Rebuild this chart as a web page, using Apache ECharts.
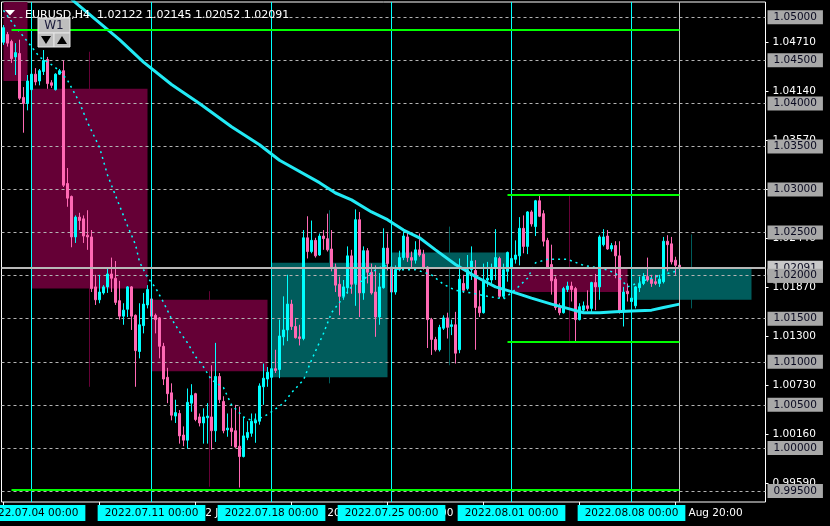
<!DOCTYPE html>
<html>
<head>
<meta charset="utf-8">
<script src="https://cdn.jsdelivr.net/npm/echarts@6/dist/echarts.min.js"></script>
<style>
html,body{margin:0;padding:0;background:#000;}
#c{width:830px;height:526px;}
</style>
</head>
<body>
<div id="c"></div>
<script>
// ---------------- data ----------------
const symbolText = 'EURUSD,H4  1.02122 1.02145 1.02052 1.02091';
const barCount = 191;            // bars visible on the time axis (incl. right shift)
const lastBar = 169;             // index of the current bar
const bidPrice = 1.02091;
const priceMin = 0.993723;
const priceMax = 1.051776;

// H4 candles: [open, close, low, high]
const candles = [
[1.0471,1.0488,1.0468,1.0491],[1.0480,1.0470,1.0466,1.0483],[1.0472,1.0452,1.0447,1.0474],[1.0454,1.0459,1.0433,1.0470],
[1.0458,1.0406,1.0404,1.0474],[1.0407,1.0400,1.0366,1.0419],[1.0400,1.0426,1.0392,1.0433],[1.0416,1.0434,1.0415,1.0445],
[1.0434,1.0425,1.0421,1.0441],[1.0426,1.0438,1.0421,1.0440],[1.0437,1.0450,1.0433,1.0462],[1.0451,1.0423,1.0417,1.0454],
[1.0424,1.0421,1.0418,1.0427],[1.0416,1.0434,1.0415,1.0435],[1.0434,1.0438,1.0433,1.0440],[1.0438,1.0305,1.0303,1.0450],
[1.0307,1.0290,1.0280,1.0325],[1.0292,1.0245,1.0233,1.0293],[1.0245,1.0268,1.0238,1.0270],[1.0268,1.0264,1.0253,1.0273],
[1.0266,1.0246,1.0238,1.0270],[1.0247,1.0245,1.0230,1.0276],[1.0245,1.0185,1.0181,1.0253],[1.0187,1.0172,1.0166,1.0201],
[1.0172,1.0181,1.0168,1.0201],[1.0180,1.0187,1.0178,1.0189],[1.0187,1.0202,1.0180,1.0210],[1.0202,1.0197,1.0181,1.0221],
[1.0197,1.0169,1.0166,1.0217],[1.0171,1.0153,1.0149,1.0194],[1.0153,1.0160,1.0143,1.0168],[1.0161,1.0187,1.0152,1.0188],
[1.0187,1.0153,1.0137,1.0188],[1.0154,1.0113,1.0071,1.0155],[1.0112,1.0143,1.0104,1.0168],[1.0142,1.0167,1.0133,1.0180],
[1.0166,1.0184,1.0162,1.0189],[1.0173,1.0153,1.0149,1.0181],[1.0154,1.0149,1.0133,1.0156],[1.0151,1.0118,1.0104,1.0152],
[1.0118,1.0080,1.0073,1.0122],[1.0082,1.0063,1.0052,1.0093],[1.0064,1.0038,1.0032,1.0075],[1.0037,1.0041,1.0029,1.0056],
[1.0040,1.0014,1.0005,1.0044],[1.0015,1.0009,1.0002,1.0025],[1.0009,1.0053,0.9999,1.0069],[1.0052,1.0061,1.0042,1.0074],
[1.0063,1.0033,1.0031,1.0064],[1.0036,1.0029,1.0025,1.0040],[1.0029,1.0036,1.0005,1.0046],[1.0035,1.0037,1.0005,1.0052],
[1.0036,1.0020,0.9998,1.0096],[1.0020,1.0083,1.0007,1.0122],[1.0083,1.0056,1.0052,1.0087],[1.0054,1.0020,1.0017,1.0060],
[1.0021,1.0023,1.0013,1.0040],[1.0023,1.0019,1.0002,1.0046],[1.0020,1.0001,1.0000,1.0050],[1.0002,0.9990,0.9954,1.0048],
[0.9990,1.0014,0.9989,1.0036],[1.0012,1.0018,1.0009,1.0031],[1.0017,1.0031,1.0013,1.0040],[1.0029,1.0032,1.0006,1.0040],
[1.0031,1.0072,1.0027,1.0075],[1.0071,1.0081,1.0050,1.0098],[1.0080,1.0088,1.0071,1.0094],[1.0082,1.0092,1.0077,1.0095],
[1.0092,1.0090,1.0087,1.0114],[1.0091,1.0130,1.0081,1.0149],[1.0129,1.0137,1.0119,1.0176],[1.0137,1.0167,1.0124,1.0201],
[1.0167,1.0141,1.0137,1.0172],[1.0141,1.0128,1.0127,1.0151],[1.0129,1.0127,1.0119,1.0143],[1.0127,1.0244,1.0125,1.0253],
[1.0244,1.0228,1.0220,1.0269],[1.0228,1.0241,1.0226,1.0264],[1.0241,1.0223,1.0221,1.0244],[1.0224,1.0246,1.0223,1.0249],
[1.0246,1.0243,1.0230,1.0253],[1.0243,1.0230,1.0228,1.0272],[1.0231,1.0210,1.0205,1.0253],[1.0210,1.0189,1.0181,1.0214],
[1.0190,1.0176,1.0154,1.0199],[1.0176,1.0187,1.0172,1.0195],[1.0186,1.0223,1.0179,1.0234],[1.0223,1.0190,1.0179,1.0230],
[1.0191,1.0265,1.0165,1.0277],[1.0265,1.0180,1.0152,1.0274],[1.0180,1.0229,1.0172,1.0234],[1.0229,1.0204,1.0191,1.0232],
[1.0204,1.0180,1.0178,1.0214],[1.0181,1.0152,1.0129,1.0212],[1.0152,1.0187,1.0143,1.0203],[1.0186,1.0232,1.0185,1.0255],
[1.0232,1.0214,1.0206,1.0249],[1.0210,1.0181,1.0178,1.0212],[1.0181,1.0207,1.0178,1.0212],[1.0207,1.0221,1.0205,1.0229],
[1.0221,1.0246,1.0218,1.0251],[1.0245,1.0221,1.0216,1.0250],[1.0221,1.0218,1.0210,1.0228],[1.0218,1.0230,1.0214,1.0240],
[1.0230,1.0224,1.0222,1.0249],[1.0225,1.0209,1.0207,1.0230],[1.0210,1.0149,1.0116,1.0211],[1.0149,1.0126,1.0108,1.0151],
[1.0126,1.0114,1.0112,1.0129],[1.0114,1.0140,1.0112,1.0143],[1.0139,1.0151,1.0137,1.0154],[1.0151,1.0140,1.0127,1.0157],
[1.0141,1.0143,1.0131,1.0149],[1.0143,1.0110,1.0098,1.0158],[1.0114,1.0196,1.0110,1.0220],[1.0191,1.0183,1.0180,1.0201],
[1.0185,1.0207,1.0183,1.0224],[1.0207,1.0217,1.0195,1.0234],[1.0206,1.0163,1.0114,1.0218],[1.0164,1.0157,1.0152,1.0183],
[1.0157,1.0195,1.0156,1.0214],[1.0195,1.0197,1.0187,1.0216],[1.0195,1.0209,1.0191,1.0214],[1.0209,1.0221,1.0195,1.0254],
[1.0220,1.0176,1.0174,1.0222],[1.0176,1.0207,1.0174,1.0214],[1.0205,1.0227,1.0193,1.0228],[1.0209,1.0220,1.0199,1.0224],
[1.0219,1.0224,1.0214,1.0241],[1.0223,1.0255,1.0212,1.0268],[1.0255,1.0234,1.0226,1.0270],[1.0234,1.0274,1.0225,1.0275],
[1.0274,1.0260,1.0257,1.0276],[1.0257,1.0287,1.0246,1.0288],[1.0287,1.0269,1.0268,1.0294],[1.0272,1.0240,1.0234,1.0276],
[1.0241,1.0210,1.0209,1.0244],[1.0213,1.0194,1.0178,1.0236],[1.0196,1.0163,1.0160,1.0199],[1.0163,1.0157,1.0154,1.0168],
[1.0157,1.0185,1.0156,1.0187],[1.0184,1.0188,1.0181,1.0193],[1.0188,1.0184,1.0170,1.0193],[1.0185,1.0149,1.0123,1.0187],
[1.0149,1.0164,1.0148,1.0168],[1.0160,1.0165,1.0158,1.0170],[1.0165,1.0162,1.0159,1.0183],[1.0162,1.0192,1.0158,1.0193],
[1.0192,1.0187,1.0160,1.0202],[1.0187,1.0245,1.0172,1.0247],[1.0236,1.0245,1.0234,1.0254],[1.0246,1.0231,1.0230,1.0253],
[1.0231,1.0235,1.0228,1.0238],[1.0235,1.0223,1.0197,1.0240],[1.0223,1.0158,1.0156,1.0240],[1.0158,1.0181,1.0141,1.0187],
[1.0182,1.0179,1.0170,1.0191],[1.0170,1.0174,1.0164,1.0189],[1.0165,1.0187,1.0162,1.0188],[1.0186,1.0191,1.0181,1.0199],
[1.0191,1.0199,1.0189,1.0203],[1.0199,1.0195,1.0193,1.0221],[1.0196,1.0191,1.0187,1.0201],[1.0193,1.0191,1.0189,1.0201],
[1.0191,1.0196,1.0187,1.0201],[1.0193,1.0240,1.0191,1.0245],[1.0240,1.0236,1.0205,1.0247],[1.0237,1.0216,1.0213,1.0245],
[1.0218,1.0212,1.0201,1.0222],[1.02122,1.02091,1.02052,1.02145]
];

// W1 candles overlay: [firstBar, lastBar, open, close, low, high]
const weeklyCandles = [
[0, 6, 1.0554, 1.0426, null, null],
[7, 36, 1.0417, 1.0185, 1.0071, 1.0460],
[37, 66, 1.0172, 1.0089, 0.9955, 1.0182],
[67, 96, 1.0082, 1.0215, 1.0075, 1.0276],
[97, 126, 1.0210, 1.0227, 1.0096, 1.0257],
[127, 156, 1.0210, 1.0181, 1.0124, 1.0294],
[157, 187, 1.0172, 1.0208, 1.0162, 1.0248]
];

// thick moving average [bar, price]
const movingAverage = [
[17,1.0521],[18,1.0517],[29,1.0474],[35,1.0448],[42,1.0422],[49,1.0400],[57,1.0373],[64,1.0352],
[69,1.0334],[79,1.0308],[83,1.0296],[87,1.0288],[92,1.0274],[96,1.0265],[100,1.0253],[104,1.0244],
[108,1.0230],[113,1.0213],[118,1.0199],[123,1.0187],[128,1.0180],[132,1.0174],[137,1.0167],[141,1.0162],
[145,1.0157],[149,1.0157],[153,1.0158],[157,1.0159],[162,1.0160],[165,1.0163],[169,1.0167]
];

// thin dotted line [bar, price]
const dottedLine = [
[0,1.0508],[3,1.0489],[7,1.0466],[9,1.0454],[12,1.0445],[14,1.0438],[16,1.0427],[19,1.0401],[21,1.0378],
[24,1.0349],[26,1.0317],[28,1.0293],[31,1.0258],[33,1.0236],[34,1.0216],[36,1.0198],[38,1.0186],[40,1.0169],
[42,1.0150],[44,1.0135],[46,1.0122],[48,1.0106],[50,1.0094],[52,1.0079],[55,1.0070],[57,1.0050],[60,1.0036],
[62,1.0032],[65,1.0036],[67,1.0042],[70,1.0052],[72,1.0064],[75,1.0079],[77,1.0102],[80,1.0133],[82,1.0157],
[85,1.0175],[87,1.0187],[90,1.0195],[92,1.0204],[95,1.0212],[99,1.0207],[103,1.0207],[107,1.0201],[110,1.0190],
[113,1.0183],[117,1.0180],[121,1.0176],[125,1.0173],[128,1.0184],[131,1.0197],[133,1.0215],[136,1.0219],
[141,1.0219],[145,1.0212],[150,1.0208],[153,1.0203],[156,1.0187],[160,1.0194],[164,1.0200],[168,1.0205]
];

// green horizontal segments [fromBar, toBar, price]
const greenLevels = [
[2, 169, 1.0485],
[126, 169, 1.0294],
[126, 169, 1.0123],
[2, 169, 0.9952]
];

const weekStartBars = [7, 37, 67, 97, 127, 157];
const gridLevels = [0.995, 1.000, 1.005, 1.010, 1.015, 1.020, 1.025, 1.030, 1.035, 1.040, 1.045, 1.050];
const scaleTicks = [1.0471, 1.0414, 1.0357, 1.0300, 1.0244, 1.0187, 1.0130, 1.0073, 1.0016, 0.9959];
const timeLabelEvery = 24;
const monthNames = ['Jan','Feb','Mar','Apr','May','Jun','Jul','Aug','Sep','Oct','Nov','Dec'];

// time categories (H4 bars, Mon-Fri)
const times = [];
(function () {
  const p = n => String(n).padStart(2, '0');
  let t = Date.UTC(2022, 5, 30, 20);
  while (times.length < barCount) {
    const d = new Date(t);
    const wd = d.getUTCDay();
    if (wd !== 0 && wd !== 6) {
      times.push(d.getUTCFullYear() + '.' + p(d.getUTCMonth() + 1) + '.' + p(d.getUTCDate()) + ' ' + p(d.getUTCHours()) + ':00');
    }
    t += 4 * 3600 * 1000;
  }
})();

function shortTime(v) {
  return parseInt(v.slice(8, 10), 10) + ' ' + monthNames[parseInt(v.slice(5, 7), 10) - 1] + ' ' + v.slice(11);
}

const FONT = 'DejaVu Sans';
const BULL = '#00FFFF', BEAR = '#FF69B4';

function renderWeekly(params, api) {
  const s = api.value(0), e = api.value(1);
  const o = api.value(2), c = api.value(3), l = api.value(4), h = api.value(5);
  const a = api.coord([s, o]);
  const b = api.coord([e, c]);
  const color = c >= o ? '#005C5C' : '#650036';
  const x0 = a[0], x1 = b[0];
  const yTop = Math.min(a[1], b[1]), yBot = Math.max(a[1], b[1]);
  const children = [];
  if (isFinite(l) && isFinite(h)) {
    const mid = (x0 + x1) / 2;
    const pl = api.coord([s, l]), ph = api.coord([s, h]);
    children.push({ type: 'line', shape: { x1: mid, y1: ph[1], x2: mid, y2: pl[1] }, style: { stroke: color, lineWidth: 1 } });
  }
  children.push({ type: 'rect', shape: { x: x0, y: yTop, width: x1 - x0, height: yBot - yTop }, style: { fill: color } });
  return { type: 'group', children: children };
}

const boxLabel = {
  show: true, position: 'end', distance: 2,
  formatter: p => Number(p.value).toFixed(5),
  backgroundColor: '#A8A8A8', color: '#0A0A20',
  padding: [1, 6, 1, 6], fontSize: 10.5, lineHeight: 12, fontFamily: FONT
};

const chart = echarts.init(document.getElementById('c'), null, { renderer: 'canvas' });

const option = {
  backgroundColor: '#000',
  animation: false,
  textStyle: { fontFamily: FONT },
  title: {
    text: symbolText, left: 20, top: 5,
    textStyle: { color: '#fff', fontSize: 11, fontWeight: 'normal', fontFamily: FONT }
  },
  grid: {
    left: 1.5, right: 64.5, top: 2, bottom: 24, containLabel: false, outerBoundsMode: 'none',
    show: true, borderColor: '#fff', borderWidth: 1, backgroundColor: 'transparent'
  },
  xAxis: [
    {
      type: 'category', data: times, boundaryGap: true,
      axisLine: { show: false },
      axisTick: { show: true, alignWithLabel: true, interval: i => i % timeLabelEvery === 0, length: 4, lineStyle: { color: '#fff' } },
      axisLabel: { interval: i => i % timeLabelEvery === 0, formatter: shortTime, color: '#fff', fontSize: 10.5, fontFamily: FONT, align: 'left', margin: 5, padding: [0, 0, 0, 3], lineHeight: 12 },
      splitLine: { show: false }
    },
    {
      type: 'category', data: times, boundaryGap: true, position: 'bottom', z: 3,
      axisLine: { show: false }, axisTick: { show: false }, splitLine: { show: false },
      axisLabel: { interval: i => weekStartBars.indexOf(i) >= 0, color: '#000', backgroundColor: '#00FFFF', padding: [2, 7, 2, 7], fontSize: 10.5, lineHeight: 12, fontFamily: FONT, margin: 3 }
    }
  ],
  yAxis: {
    type: 'value', position: 'right', min: priceMin, max: priceMax,
    splitLine: { show: false }, axisLine: { show: false },
    axisTick: { show: true, customValues: scaleTicks, length: 3, lineStyle: { color: '#fff' } },
    axisLabel: { customValues: scaleTicks, formatter: v => v.toFixed(5), color: '#fff', fontSize: 10.5, fontFamily: FONT, margin: 7 }
  },
  series: [
    {
      type: 'custom', name: 'W1', z: 0, clip: true, silent: true,
      data: weeklyCandles, encode: { x: [0, 1], y: [2, 3, 4, 5] },
      renderItem: renderWeekly
    },
    {
      type: 'line', name: 'levels', data: [], z: 1, silent: true,
      markLine: {
        z: 1, silent: true, symbol: ['none', 'none'], precision: 5, animation: false,
        lineStyle: { color: '#B4B4B4', type: [3, 3], width: 1 },
        label: boxLabel,
        data: gridLevels.map(v => ({ yAxis: v }))
      }
    },
    {
      type: 'candlestick', name: 'EURUSD', z: 3, data: candles, barWidth: 2, clip: true,
      itemStyle: { color: BULL, color0: BEAR, borderColor: BULL, borderColor0: BEAR, borderWidth: 1 }
    },
    {
      type: 'line', name: 'dotted', z: 4, data: dottedLine, showSymbol: false, symbol: 'none', silent: true,
      lineStyle: { color: '#00FFFF', width: 1.5, type: [2, 4] }
    },
    {
      type: 'line', name: 'MA', z: 4, data: movingAverage, showSymbol: false, symbol: 'none', silent: true,
      lineStyle: { color: '#22EAF5', width: 3 }
    },
    {
      type: 'line', name: 'objects', data: [], z: 5, silent: true,
      markLine: {
        z: 5, silent: true, symbol: ['none', 'none'], precision: 5, animation: false,
        label: { show: false },
        data: [].concat(
          weekStartBars.map(i => ({ xAxis: times[i], lineStyle: { color: '#00FFFF', width: 1, type: 'solid' } })),
          [{ xAxis: times[lastBar], lineStyle: { color: '#C8C8C8', width: 1, type: 'solid' } }],
          greenLevels.map(g => [
            { coord: [times[g[0]], g[2]], lineStyle: { color: '#00FF00', width: 2, type: 'solid' } },
            { coord: [times[g[1]], g[2]] }
          ]),
          [{
            yAxis: bidPrice, lineStyle: { color: '#B8B8B8', width: 2, type: 'solid' },
            label: Object.assign({}, boxLabel, { backgroundColor: '#C8C8C8' })
          }]
        )
      }
    },
    {
      type: 'line', name: 'topLabel', data: [], z: 6, silent: true,
      markLine: {
        z: 6, silent: true, symbol: ['none', 'none'], precision: 5, animation: false,
        lineStyle: { color: 'rgba(0,0,0,0)', width: 0 },
        label: boxLabel,
        data: [{ yAxis: 1.02 }]
      }
    }
  ],
  graphic: [
    { type: 'polygon', z: 100, shape: { points: [[5, 10], [15, 10], [10, 15.5]] }, style: { fill: '#fff' } },
    { type: 'rect', z: 100, shape: { x: 38, y: 18, width: 32, height: 15 }, style: { fill: '#BEBEBE', stroke: '#E6E6E6', lineWidth: 1 } },
    { type: 'text', z: 101, x: 54, y: 26, style: { text: 'W1', fill: '#1A1A3A', font: '12px DejaVu Sans', align: 'center', verticalAlign: 'middle' } },
    { type: 'rect', z: 100, shape: { x: 38, y: 33, width: 16, height: 14 }, style: { fill: '#BEBEBE', stroke: '#E6E6E6', lineWidth: 1 } },
    { type: 'rect', z: 100, shape: { x: 54, y: 33, width: 16, height: 14 }, style: { fill: '#BEBEBE', stroke: '#E6E6E6', lineWidth: 1 } },
    { type: 'polygon', z: 101, shape: { points: [[41, 36], [51, 36], [46, 44]] }, style: { fill: '#000' } },
    { type: 'polygon', z: 101, shape: { points: [[57, 44], [67, 44], [62, 36]] }, style: { fill: '#000' } }
  ]
};

chart.setOption(option);
</script>
</body>
</html>
